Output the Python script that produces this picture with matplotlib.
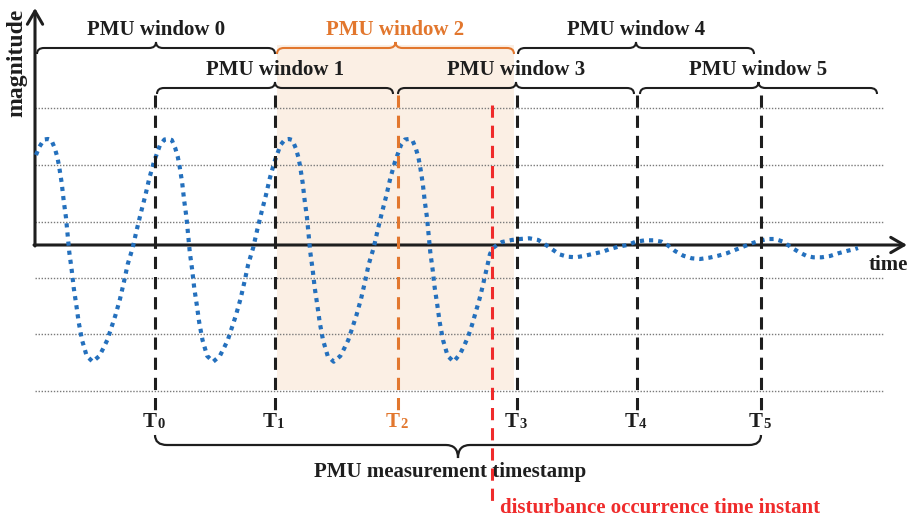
import matplotlib.pyplot as plt
from matplotlib.path import Path
from matplotlib.patches import PathPatch, Rectangle

plt.rcParams['font.family'] = ['Liberation Serif', 'DejaVu Serif']
plt.rcParams['font.weight'] = 'bold'

# time and magnitude in arbitrary units (origin at the axes corner)
cycle0_t = [1, 4.3, 9, 13, 16.3, 19.7, 22.3, 24, 26.7, 28.7, 31, 32.7, 34.3, 36.7, 38.7, 41.3, 43.7, 47,
            51.7, 57.7, 64.3, 68.3, 72.3, 75, 80.3, 85, 89, 92.7, 97.7, 101.7, 106, 110.3, 114.3, 119, 125]
cycle0_m = [90, 98, 105.5, 106, 105, 97, 88, 79.3, 62, 44.3, 27.3, 10, -7.3, -25, -42.7, -60, -77.3, -95,
            -111, -116.7, -111, -103.3, -95, -86.7, -70.7, -54, -36.7, -19.3, -2.7, 15, 32.7, 49.3, 66.7, 83.3, 100]
cycle1_t = [129.5, 133.5, 136.8, 140.2, 142.8, 144.5, 147.2, 149.2, 151.5, 153.2, 154.8, 157.2, 159.2, 161.8,
            164.2, 167.5, 172.2, 178.2, 184.8, 188.8, 192.8, 195.5, 200.8, 205.5, 209.5, 213.2, 218.2, 222.2,
            226.5, 230.8, 234.8, 239.5, 245.5]
cycle1_m = [105.5, 106, 105, 97, 88, 79.3, 62, 44.3, 27.3, 10, -7.3, -25, -42.7, -60, -77.3, -95, -111, -116.7,
            -111, -103.3, -95, -86.7, -70.7, -54, -36.7, -19.3, -2.7, 15, 32.7, 49.3, 66.7, 83.3, 100]
cycle2_t = [250, 254, 257.3, 260.7, 263.3, 265, 267.7, 269.7, 272, 273.7, 275.3, 277.7, 279.7, 282.3, 284.7,
            288, 292.7, 298.7, 305.3, 309.3, 313.3, 316, 321.3, 326, 330, 333.7, 338.7, 342.7, 347, 351.3,
            355.3, 360, 366]
cycle2_m = [105.5, 106, 105, 97, 88, 79.3, 62, 44.3, 27.3, 10, -7.3, -25, -42.7, -60, -77.3, -95, -111, -116.7,
            -111, -103.3, -95, -86.7, -70.7, -54, -36.7, -19.3, -2.7, 15, 32.7, 49.3, 66.7, 83.3, 100]
cycle3_t = [370, 374, 377.3, 380.7, 383.3, 385, 387.7, 389.7, 392, 393.7, 395.3, 397.7, 399.7, 402.3, 404.7,
            408, 412.7, 418.7, 425, 429, 433, 437, 441, 444.5, 447.5, 450, 452.5, 455, 458, 462, 467, 476.7,
            485, 494.3]
cycle3_m = [105.5, 106, 105, 97, 88, 79.3, 62, 44.3, 27.3, 10, -7.3, -25, -42.7, -60, -77.3, -95, -111, -116.7,
            -109, -101, -92, -80, -66, -54, -42, -31, -20, -9, -3, 0, 3, 5, 6, 6.7]
after_t = [503.3, 510, 516.7, 524.3, 532.3, 541, 550, 559, 567.7, 575, 583.3, 592.3, 601, 610, 618.3, 626.7,
           632.3, 640, 648.3, 656.7, 665, 674.3, 683.3, 691.7, 700, 708.3, 716.7, 725, 732.3, 740, 748.3,
           756.7, 764.3, 771.7, 778.3, 786.7, 795, 803.3, 811.7, 820, 823]
after_m = [5, 0.7, -4, -9.3, -11.7, -12.3, -10.7, -8.7, -6.7, -4, -1.7, 0, 3.3, 4.7, 4.7, 3.3, 0, -6, -10.7,
           -13.3, -14, -12.7, -10.7, -8.3, -5, -1.7, 1.7, 4.3, 6, 6, 3.3, -2.7, -7.3, -11, -12.3, -12.3, -11,
           -8.3, -6, -4, -3]

timestamps = [120, 240, 363, 482, 602, 726]
ts_names = ['0', '1', '2', '3', '4', '5']
window_start = [2, 122, 242, 363, 483, 605]
window_end = [240, 358, 479, 599, 719, 842]
window_names = ['PMU window 0', 'PMU window 1', 'PMU window 2', 'PMU window 3', 'PMU window 4', 'PMU window 5']
grid_levels = [136.7, 80, 23.3, -33.3, -89.3, -145.7]
disturbance_t = 457

black = '#1e1e1e'
orange = '#e2772e'
red = '#ef2b2b'
blue = '#2470bd'
shade = '#fbefe4'


def brace(ax, x0, x1, y, h, tip, r, color, lw=1.5, xm=None):
    if xm is None:
        xm = (x0 + x1) / 2
    verts = [(x0, y + h), (x0, y), (x0 + r, y), (xm - r, y), (xm, y), (xm, y + tip),
             (xm, y), (xm + r, y), (x1 - r, y), (x1, y), (x1, y + h)]
    codes = [Path.MOVETO, Path.CURVE3, Path.CURVE3, Path.LINETO, Path.CURVE3, Path.CURVE3,
             Path.CURVE3, Path.CURVE3, Path.LINETO, Path.CURVE3, Path.CURVE3]
    ax.add_patch(PathPatch(Path(verts, codes), fc='none', ec=color, lw=lw, zorder=5))


fig = plt.figure(figsize=(9.1, 5.2), dpi=100)
ax = fig.add_axes([0, 0, 1, 1])
ax.set_xlim(-35, 875)
ax.set_ylim(-275, 245)
ax.axis('off')

# PMU window 2 highlight
ax.add_patch(Rectangle((window_start[2], -145), window_end[2] - window_start[2], 345,
                       fc=shade, ec='none', zorder=0))

for g in grid_levels:
    ax.plot([0, 848], [g, g], color='#7a7a7a', lw=1.0, ls=(0, (1, 1.2)), zorder=1)

# axes with arrows
ax.annotate('', xy=(0, 237), xytext=(0, -1),
            arrowprops=dict(arrowstyle='->,head_length=0.95,head_width=0.55', lw=2.2, color=black,
                            shrinkA=0, shrinkB=0), zorder=2)
ax.annotate('', xy=(872, 0), xytext=(-1, 0),
            arrowprops=dict(arrowstyle='->,head_length=0.95,head_width=0.55', lw=2.2, color=black,
                            shrinkA=0, shrinkB=0), zorder=2)

wave_t = cycle0_t + cycle1_t + cycle2_t + cycle3_t + after_t
wave_m = cycle0_m + cycle1_m + cycle2_m + cycle3_m + after_m
ax.plot(wave_t, wave_m, color=blue, lw=3.0, ls=(0, (1, 1.2)), zorder=3)

for t, name in zip(timestamps, ts_names):
    c = orange if name == '2' else black
    ax.plot([t, t], [150, -165], color=c, lw=2.2, ls=(0, (4, 2.6)), zorder=4)
    ax.text(t + 2, -182, 'T', color=c, fontsize=15, ha='right', va='baseline', zorder=6)
    ax.text(t + 2, -183, name, color=c, fontsize=10.5, ha='left', va='baseline', zorder=6)

ax.plot([disturbance_t, disturbance_t], [140, -262], color=red, lw=2.2, ls=(0, (4, 2.6)), zorder=4)

for i, (s, e, name) in enumerate(zip(window_start, window_end, window_names)):
    c = orange if i == 2 else black
    line_y = 197 if i % 2 == 0 else 157
    brace(ax, s, e, line_y, -6, 6, 7, c)
    ax.text((s + e) / 2, line_y + 13, name, color=c, fontsize=15, ha='center', va='baseline')

brace(ax, timestamps[0], timestamps[-1], -200, 10, -13, 12, black, lw=1.6, xm=423)
ax.text(415, -232, 'PMU measurement timestamp', color=black, fontsize=15, ha='center', va='baseline')
ax.text(disturbance_t + 8, -268, 'disturbance occurrence time instant', color=red, fontsize=15,
        ha='left', va='baseline')

ax.text(-18, 182, 'magnitude', color=black, fontsize=17, rotation=90, ha='center', va='center')
ax.text(853, -25, 'time', color=black, fontsize=15, ha='center', va='baseline')

fig.savefig('out.png', dpi=100)
